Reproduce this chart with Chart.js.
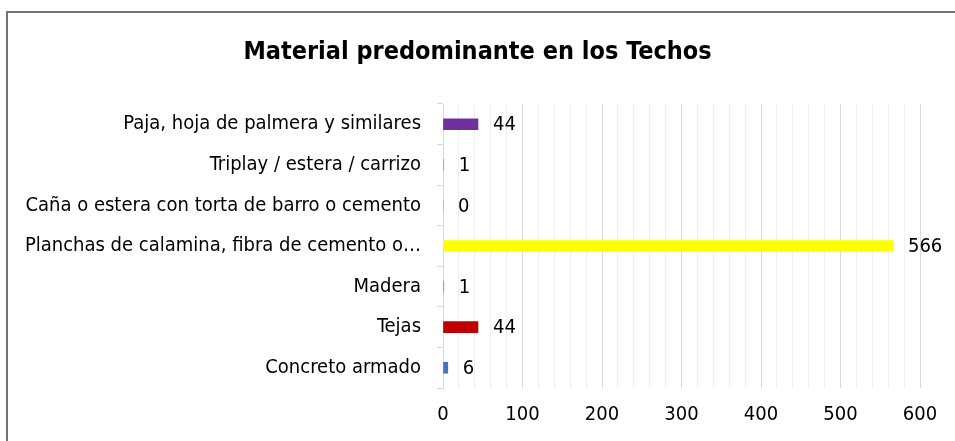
<!DOCTYPE html>
<html>
<head>
<meta charset="utf-8">
<script src="https://cdn.jsdelivr.net/npm/chart.js@4/dist/chart.umd.min.js"></script>
<style>
  html, body { margin: 0; padding: 0; background: #fff; }
  #wrap { position: relative; width: 955px; height: 441px; overflow: hidden; }
  #frame { position: absolute; left: 6px; top: 11px; width: 1200px; height: 1000px;
           border: 2px solid #737373; pointer-events: none; box-sizing: border-box; }
  canvas { position: absolute; left: 0; top: 0; }
</style>
</head>
<body>
<div id="wrap">
  <canvas id="c" width="955" height="441"></canvas>
  <div id="frame"></div>
</div>
<script>
const TITLE = 'Material predominante en los Techos';
const categories = [
  'Paja, hoja de palmera y similares',
  'Triplay / estera / carrizo',
  'Caña o estera con torta de barro o cemento',
  'Planchas de calamina, fibra de cemento o…',
  'Madera',
  'Tejas',
  'Concreto armado'
];
const values = [44, 1, 0, 566, 1, 44, 6];
const barColors = ['#7030A0', '#A5A5A5', '#70AD47', '#FFFF00', '#ED7D31', '#C00000', '#4472C4'];
const xTickValues = [0, 100, 200, 300, 400, 500, 600];

const FONT = '"Liberation Sans Narrow", "DejaVu Sans Condensed", "Arial Narrow", sans-serif';

const valueLabels = {
  id: 'valueLabels',
  afterDatasetsDraw(chart) {
    const ctx = chart.ctx;
    const meta = chart.getDatasetMeta(0);
    ctx.save();
    ctx.font = '20px ' + FONT;
    ctx.fillStyle = '#000';
    ctx.textAlign = 'left';
    ctx.textBaseline = 'middle';
    meta.data.forEach((bar, i) => {
      ctx.fillText(String(values[i]), bar.x + 15, bar.y + 1);
    });
    ctx.restore();
  }
};

const centeredTitle = {
  id: 'centeredTitle',
  afterDraw(chart) {
    const ctx = chart.ctx;
    ctx.save();
    ctx.font = 'bold 25px ' + FONT;
    ctx.fillStyle = '#000';
    ctx.textAlign = 'center';
    ctx.textBaseline = 'middle';
    ctx.fillText(TITLE, chart.width / 2, 52);
    ctx.restore();
  }
};

new Chart(document.getElementById('c'), {
  type: 'bar',
  data: {
    labels: categories,
    datasets: [{
      data: values,
      backgroundColor: barColors,
      barThickness: 11,
      borderWidth: 0
    }]
  },
  options: {
    indexAxis: 'y',
    responsive: false,
    animation: false,
    layout: { padding: { left: 0, right: 35, top: 104, bottom: 0 } },
    plugins: {
      legend: { display: false },
      tooltip: { enabled: false },
      title: { display: false }
    },
    scales: {
      x: {
        min: 0,
        max: 600,
        afterFit(scale) { scale.height = 53; },
        ticks: {
          stepSize: 20,
          autoSkip: false,
          maxRotation: 0,
          padding: 15,
          color: '#000',
          font: { family: FONT, size: 20 },
          callback: (v) => xTickValues.includes(v) ? String(v) : ''
        },
        grid: {
          drawTicks: false,
          color: (c) => (c.tick && c.tick.value % 100 === 0) ? '#d9d9d9' : '#efefef',
          lineWidth: 1
        },
        border: { display: false }
      },
      y: {
        afterFit(scale) { scale.width = 443; },
        ticks: {
          color: '#000',
          padding: 16,
          font: { family: FONT, size: 20 }
        },
        grid: {
          offset: true,
          drawOnChartArea: false,
          drawTicks: true,
          tickLength: 6,
          color: '#d9d9d9'
        },
        border: { display: true, color: '#d9d9d9', width: 1 }
      }
    }
  },
  plugins: [valueLabels, centeredTitle]
});
</script>
</body>
</html>
